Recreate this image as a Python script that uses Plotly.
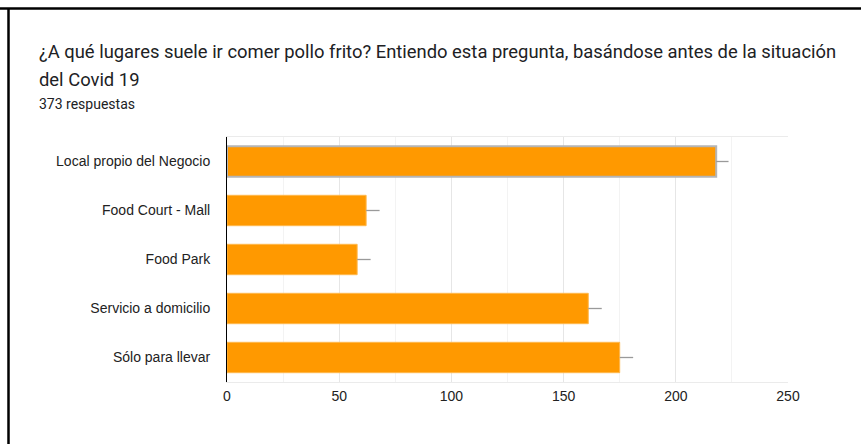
import plotly.graph_objects as go

# Survey answers: where people usually eat fried chicken
categories = [
    "Local propio del Negocio",
    "Food Court - Mall",
    "Food Park",
    "Servicio a domicilio",
    "Sólo para llevar",
]
responses = [218, 62, 58, 161, 175]
whisker = [5.5, 6, 6, 6, 6]
x_ticks = [0, 50, 100, 150, 200, 250]

title_line1 = "¿A qué lugares suele ir comer pollo frito? Entiendo esta pregunta, basándose antes de la situación"
title_line2 = "del Covid 19"
subtitle = "373 respuestas"

ORANGE = "#ff9900"
outline_colors = ["#b5b5b5"] + ["#ffb84d"] * (len(categories) - 1)
outline_widths = [2] + [1] * (len(categories) - 1)

fig = go.Figure(
    go.Bar(
        x=responses,
        y=categories,
        orientation="h",
        marker=dict(color=ORANGE, line=dict(color=outline_colors, width=outline_widths)),
        error_x=dict(
            type="data",
            symmetric=False,
            array=whisker,
            arrayminus=[0] * len(whisker),
            color="#9a9a9a",
            thickness=1.3,
            width=0,
        ),
        width=0.62,
        hoverinfo="x+y",
    )
)

fig.update_layout(
    width=861,
    height=444,
    margin=dict(l=227, r=73, t=137, b=62),
    paper_bgcolor="white",
    plot_bgcolor="white",
    showlegend=False,
    font=dict(family="Liberation Sans, Arial, sans-serif", size=14, color="#222222"),
    xaxis=dict(
        range=[0, 250],
        tickvals=x_ticks,
        ticktext=[str(v) for v in x_ticks],
        showgrid=True,
        gridcolor="#e6e6e6",
        gridwidth=1,
        minor=dict(dtick=25, showgrid=True, gridcolor="#f3f3f3", gridwidth=1),
        zeroline=False,
        showline=True,
        linecolor="#ebebeb",
        linewidth=1,
        mirror=True,
        ticks="",
        ticklabelstandoff=1,
        tickfont=dict(size=14, color="#222222"),
        fixedrange=True,
    ),
    yaxis=dict(
        categoryorder="array",
        categoryarray=categories[::-1],
        showgrid=False,
        zeroline=False,
        showline=True,
        linecolor="#000000",
        linewidth=1,
        ticks="",
        ticklabelstandoff=13,
        tickfont=dict(size=14, color="#222222"),
        fixedrange=True,
    ),
    shapes=[
        # frame edges along the top and left of the card
        dict(type="line", xref="paper", yref="paper", x0=-227 / 561, x1=1 + 73 / 561,
             y0=1 + (137 - 8.5) / 245, y1=1 + (137 - 8.5) / 245,
             line=dict(color="#000000", width=2.5)),
        dict(type="line", xref="paper", yref="paper", x0=-(227 - 8.5) / 561, x1=-(227 - 8.5) / 561,
             y0=-62 / 245, y1=1 + (137 - 8.5) / 245,
             line=dict(color="#000000", width=2.5)),
    ],
    annotations=[
        dict(text=title_line1, xref="paper", yref="paper", x=-(227 - 37) / 561, y=1 + (137 - 51) / 245,
             xanchor="left", yanchor="middle", showarrow=False,
             font=dict(family="Roboto, sans-serif", size=18.4, color="#202124")),
        dict(text=title_line2, xref="paper", yref="paper", x=-(227 - 37) / 561, y=1 + (137 - 79) / 245,
             xanchor="left", yanchor="middle", showarrow=False,
             font=dict(family="Roboto, sans-serif", size=18.4, color="#202124")),
        dict(text=subtitle, xref="paper", yref="paper", x=-(227 - 37) / 561, y=1 + (137 - 104) / 245,
             xanchor="left", yanchor="middle", showarrow=False,
             font=dict(family="Roboto, sans-serif", size=14, color="#202124")),
    ],
)

fig.write_html("out.html", config={"displayModeBar": False})
